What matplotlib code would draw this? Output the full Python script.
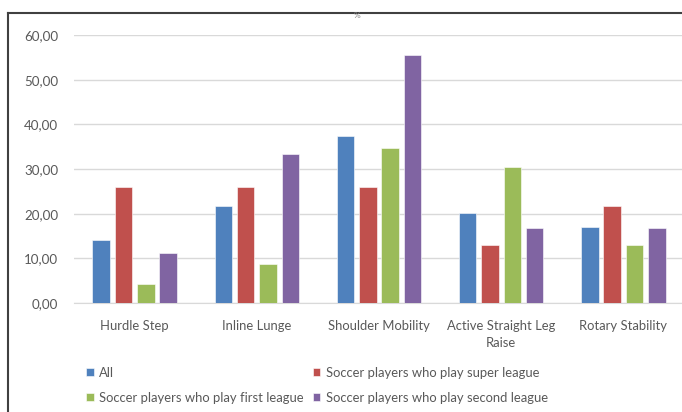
import numpy as np
import matplotlib.pyplot as plt
from matplotlib.lines import Line2D

plt.rcParams['font.family'] = ['Lato', 'DejaVu Sans']

categories = ['Hurdle Step', 'Inline Lunge', 'Shoulder Mobility',
              'Active Straight Leg\nRaise', 'Rotary Stability']
series = ['All',
          'Soccer players who play super league',
          'Soccer players who play first league',
          'Soccer players who play second league']
all_players = [14.0, 21.8, 37.5, 20.2, 17.1]
super_league = [26.0, 26.0, 26.0, 13.0, 21.7]
first_league = [4.3, 8.7, 34.8, 30.4, 13.0]
second_league = [11.1, 33.3, 55.6, 16.7, 16.7]
yticks = [0, 10, 20, 30, 40, 50, 60]
colors = ['#4F81BD', '#C0504D', '#9BBB59', '#8064A2']

values = [all_players, super_league, first_league, second_league]
text_color = '#595959'

fig = plt.figure(figsize=(6.82, 4.12), dpi=100)
# frame: top and left edges only
top = 1 - 12.5 / 412
left = 8 / 682
fig.add_artist(Line2D([left, 1.0], [top, top], transform=fig.transFigure,
                      color='#404040', linewidth=1.5))
fig.add_artist(Line2D([left, left], [0, top], transform=fig.transFigure,
                      color='#404040', linewidth=1.5))

ax = fig.add_axes([73.5 / 682, 1 - 303 / 412, 611 / 682, 268 / 412])
x = np.arange(len(categories))
width = 0.143
step = 0.183
for i, (name, vals) in enumerate(zip(series, values)):
    ax.bar(x + (i - 1.5) * step, vals, width, color=colors[i], label=name,
           edgecolor='white', linewidth=0.4, zorder=3)

ax.set_xlim(-0.5, 4.5)
ax.set_ylim(0, 60)
ax.set_yticks(yticks)
ax.set_yticklabels([f'{v:.2f}'.replace('.', ',') for v in yticks],
                   color=text_color, fontsize=9.6)
ax.set_xticks(x)
ax.set_xticklabels(categories, color=text_color, fontsize=9.4,
                   linespacing=1.5)
ax.tick_params(axis='x', length=0, pad=12)
ax.tick_params(axis='y', length=0, pad=11)
ax.grid(axis='y', color='#D9D9D9', linewidth=1, zorder=0)
for s in ['top', 'right', 'left']:
    ax.spines[s].set_visible(False)
ax.spines['bottom'].set_color('#D9D9D9')

fig.text(357 / 682, 1 - 16 / 412, '%', color='#808080', fontsize=6,
         ha='center', va='center')

handles, labels = ax.get_legend_handles_labels()
order = [0, 2, 1, 3]
fig.legend([handles[k] for k in order], [labels[k] for k in order],
           ncol=2, loc='upper left', bbox_to_anchor=(74 / 682, 1 - 355 / 412),
           frameon=False, fontsize=9.4, handlelength=0.6, handleheight=0.6,
           handletextpad=0.4, columnspacing=0.7, labelspacing=0.98,
           labelcolor=text_color)

fig.savefig('out.png', dpi=100)
